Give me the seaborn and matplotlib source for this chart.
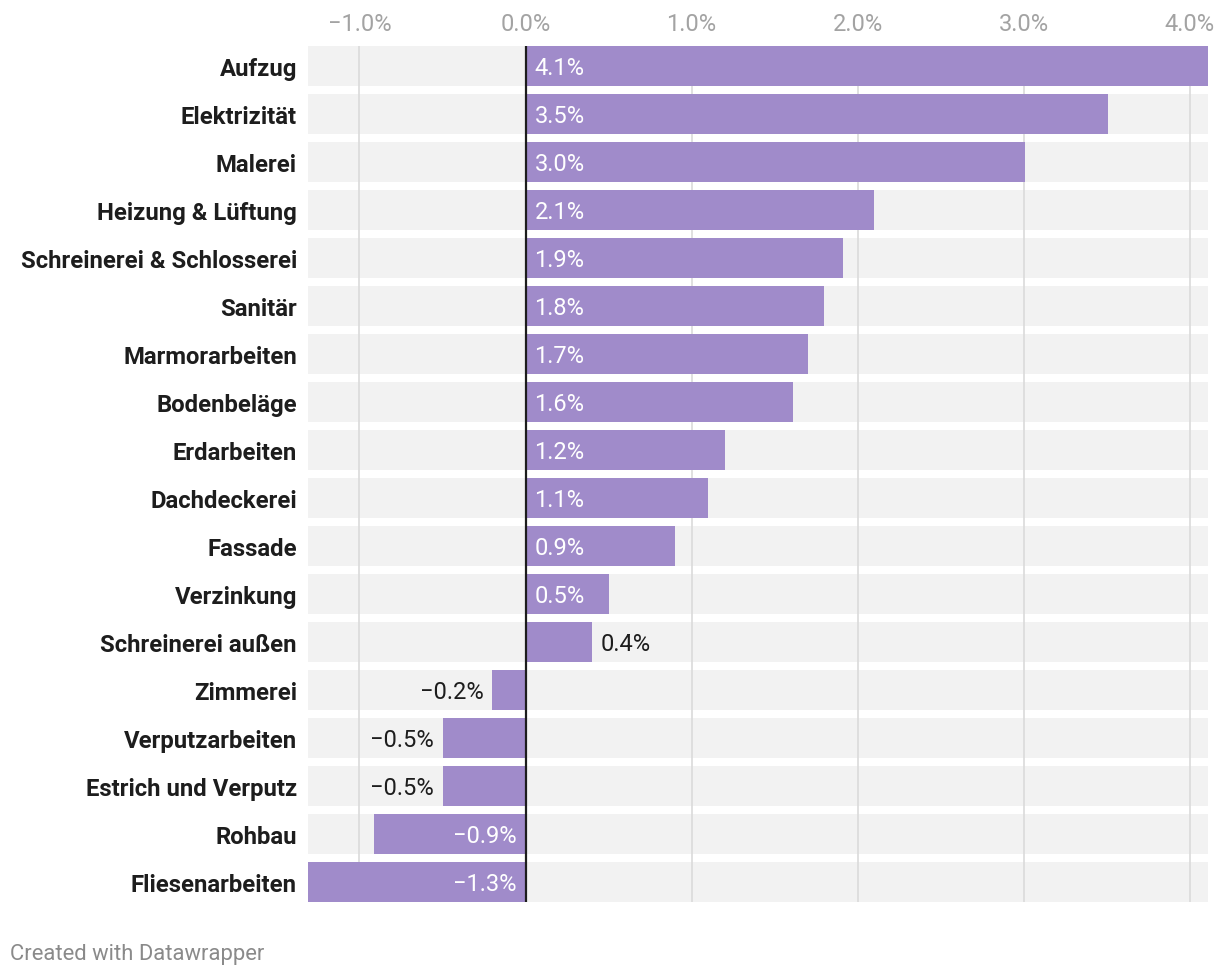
import matplotlib
matplotlib.use("Agg")
import matplotlib.pyplot as plt
import seaborn as sns
import pandas as pd

# ----------------------------
# Data
# ----------------------------
categories = [
    "Aufzug", "Elektrizität", "Malerei", "Heizung & Lüftung",
    "Schreinerei & Schlosserei", "Sanitär", "Marmorarbeiten", "Bodenbeläge",
    "Erdarbeiten", "Dachdeckerei", "Fassade", "Verzinkung",
    "Schreinerei außen", "Zimmerei", "Verputzarbeiten", "Estrich und Verputz",
    "Rohbau", "Fliesenarbeiten",
]
values = [4.11, 3.51, 3.01, 2.10, 1.91, 1.80, 1.70, 1.61, 1.20, 1.10,
          0.90, 0.50, 0.40, -0.20, -0.50, -0.50, -0.91, -1.31]
tick_values = [-1.0, 0.0, 1.0, 2.0, 3.0, 4.0]

BAR = "#a08bca"
BG = "#f2f2f2"
GRID = "#dadada"
DARK = "#1d1d1d"

sns.set_style("white")
plt.rcParams["font.family"] = ["Roboto", "DejaVu Sans"]

df = pd.DataFrame({"category": categories, "value": values})


def fmt(v):
    return f"{v:.1f}%".replace("-", "\u2212")


# ----------------------------
# Layout
# ----------------------------
W, H = 1220, 978
fig = plt.figure(figsize=(W / 100, H / 100), dpi=100)
ax = fig.add_axes([308 / W, (H - 903) / H, 900 / W, 856 / H])

bar_w = 40 / 48
n = len(categories)

# background bands
for i in range(n):
    ax.axhspan(i - bar_w / 2, i + bar_w / 2, color=BG, lw=0, zorder=0)

sns.barplot(data=df, x="value", y="category", orient="h", color=BAR,
            width=bar_w, saturation=1, linewidth=0, ax=ax, zorder=2)

ax.set_xlim(min(values), max(values))
ax.set_ylim(n - 1 + bar_w / 2, -bar_w / 2)

ax.axvline(0, color=DARK, lw=1.6, zorder=4)

# grid
ax.set_axisbelow(True)
ax.set_xticks(tick_values)
ax.set_xticklabels([fmt(t) for t in tick_values])
ax.xaxis.grid(True, color=GRID, lw=1.2)
ax.yaxis.grid(False)
ax.xaxis.tick_top()
ax.tick_params(axis="x", length=0, pad=8, labelsize=17, labelcolor="#a3a3a3")
ax.tick_params(axis="y", length=0, pad=8, labelsize=17.2, labelcolor=DARK)
for lab in ax.get_yticklabels():
    lab.set_fontweight("bold")
ax.set_xlabel("")
ax.set_ylabel("")
for s in ax.spines.values():
    s.set_visible(False)

# ----------------------------
# Value labels
# ----------------------------
px = (max(values) - min(values)) / 900  # data units per pixel
off = 9 * px
for i, v in enumerate(values):
    width_px = abs(v) / px
    need = 70 if v >= 0 else 85
    inside = width_px > need
    if v >= 0:
        x, ha = (off, "left") if inside else (v + off, "left")
    else:
        x, ha = (-off, "right") if inside else (v - off, "right")
    ax.text(x, i + 0.03, fmt(v), ha=ha, va="center",
            color="white" if inside else DARK, fontsize=17, zorder=5)

fig.text(10 / W, 1 - 955 / H, "Created with Datawrapper", ha="left", va="center",
         fontsize=15.8, color="#8a8a8a")

fig.savefig("out.png", dpi=100, facecolor="white")
